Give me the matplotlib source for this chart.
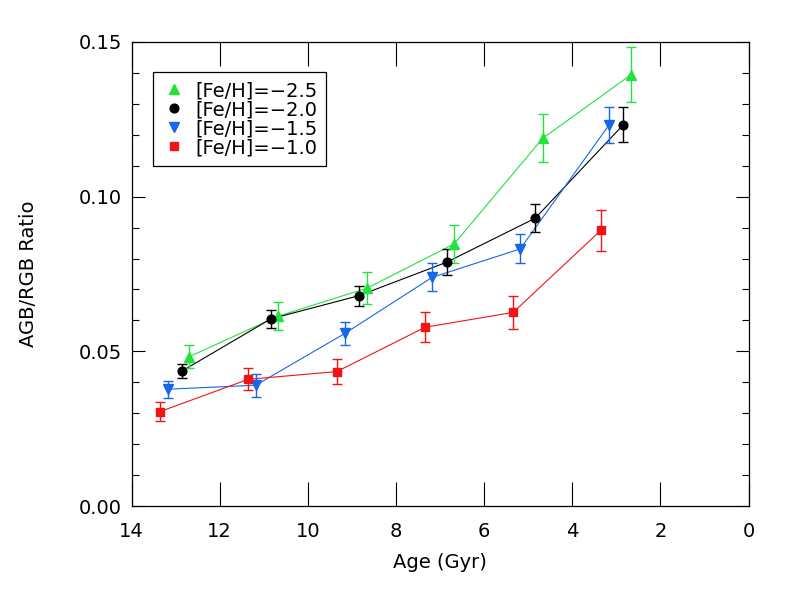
import matplotlib
matplotlib.use("Agg")
import matplotlib.pyplot as plt
from matplotlib.lines import Line2D

# [Fe/H] = -2.5
age_m25 = [12.69, 10.67, 8.66, 6.68, 4.67, 2.67]
rat_m25 = [0.0483, 0.0614, 0.0704, 0.0847, 0.1188, 0.1393]
err_m25 = [0.0037, 0.0046, 0.0052, 0.0061, 0.0078, 0.0089]

# [Fe/H] = -2.0
age_m20 = [12.85, 10.84, 8.84, 6.85, 4.84, 2.84]
rat_m20 = [0.0437, 0.0605, 0.0680, 0.0788, 0.0930, 0.1232]
err_m20 = [0.0024, 0.0030, 0.0032, 0.0042, 0.0045, 0.0057]

# [Fe/H] = -1.5
age_m15 = [13.18, 11.18, 9.16, 7.18, 5.18, 3.17]
rat_m15 = [0.0378, 0.0391, 0.0558, 0.0739, 0.0831, 0.1230]
err_m15 = [0.0027, 0.0037, 0.0036, 0.0045, 0.0047, 0.0058]

# [Fe/H] = -1.0
age_m10 = [13.35, 11.35, 9.34, 7.34, 5.34, 3.35]
rat_m10 = [0.0306, 0.0410, 0.0435, 0.0578, 0.0626, 0.0891]
err_m10 = [0.0030, 0.0036, 0.0039, 0.0048, 0.0052, 0.0066]

labels = ["[Fe/H]=\u22122.5", "[Fe/H]=\u22122.0", "[Fe/H]=\u22121.5", "[Fe/H]=\u22121.0"]

green = "#22e23c"
blue = "#1666e8"
red = "#f01414"

plt.rcParams['font.family'] = ['DejaVu Sans']

fig = plt.figure(figsize=(7.86, 5.90), dpi=100)
ax = fig.add_axes([131.5 / 786, 1 - 506.3 / 590, 617 / 786, 464.6 / 590])

series = [
    (age_m25, rat_m25, err_m25, green, "^", 6.5),
    (age_m20, rat_m20, err_m20, "black", "o", 6.3),
    (age_m15, rat_m15, err_m15, blue, "v", 6.5),
    (age_m10, rat_m10, err_m10, red, "s", 6.0),
]

handles = []
for (x, y, e, c, m, ms), lab in zip(series, labels):
    ax.plot(x, y, color=c, lw=0.8, zorder=2)
    ax.errorbar(x, y, yerr=e, fmt=m, color=c, ms=ms, mec=c, mfc=c,
                elinewidth=1.0, capsize=3.5, capthick=1.0, zorder=3)
    handles.append(Line2D([], [], ls="none", marker=m, color=c, ms=ms))

ax.set_xlim(14, 0)
ax.set_ylim(0, 0.15)
ax.set_xticks([14, 12, 10, 8, 6, 4, 2, 0])
ax.set_yticks([0.00, 0.05, 0.10, 0.15])
ax.set_yticks([0.01 * i for i in range(16)], minor=True)
ax.yaxis.set_major_formatter(matplotlib.ticker.FormatStrFormatter("%.2f"))

ax.tick_params(axis="x", which="major", direction="in", length=17.3, width=0.8,
               top=True, labelsize=14, pad=11)
ax.tick_params(axis="y", which="major", direction="in", length=9.4, width=0.8,
               right=True, labelsize=14, pad=7)
ax.tick_params(axis="y", which="minor", direction="in", length=4.8, width=0.8,
               right=True)
for s in ax.spines.values():
    s.set_linewidth(0.9)

ax.set_xlabel("Age (Gyr)", fontsize=14, labelpad=9)
ax.set_ylabel("AGB/RGB Ratio", fontsize=14, labelpad=29)

leg = ax.legend(handles, labels, loc="upper left", bbox_to_anchor=(0.035, 0.934),
                borderaxespad=0, fontsize=14, frameon=True, fancybox=False,
                framealpha=1, edgecolor="black", handlelength=1.2,
                handletextpad=0.5, labelspacing=0.0, borderpad=0.45)
leg.get_frame().set_linewidth(0.9)

fig.savefig("out.png", dpi=100)
